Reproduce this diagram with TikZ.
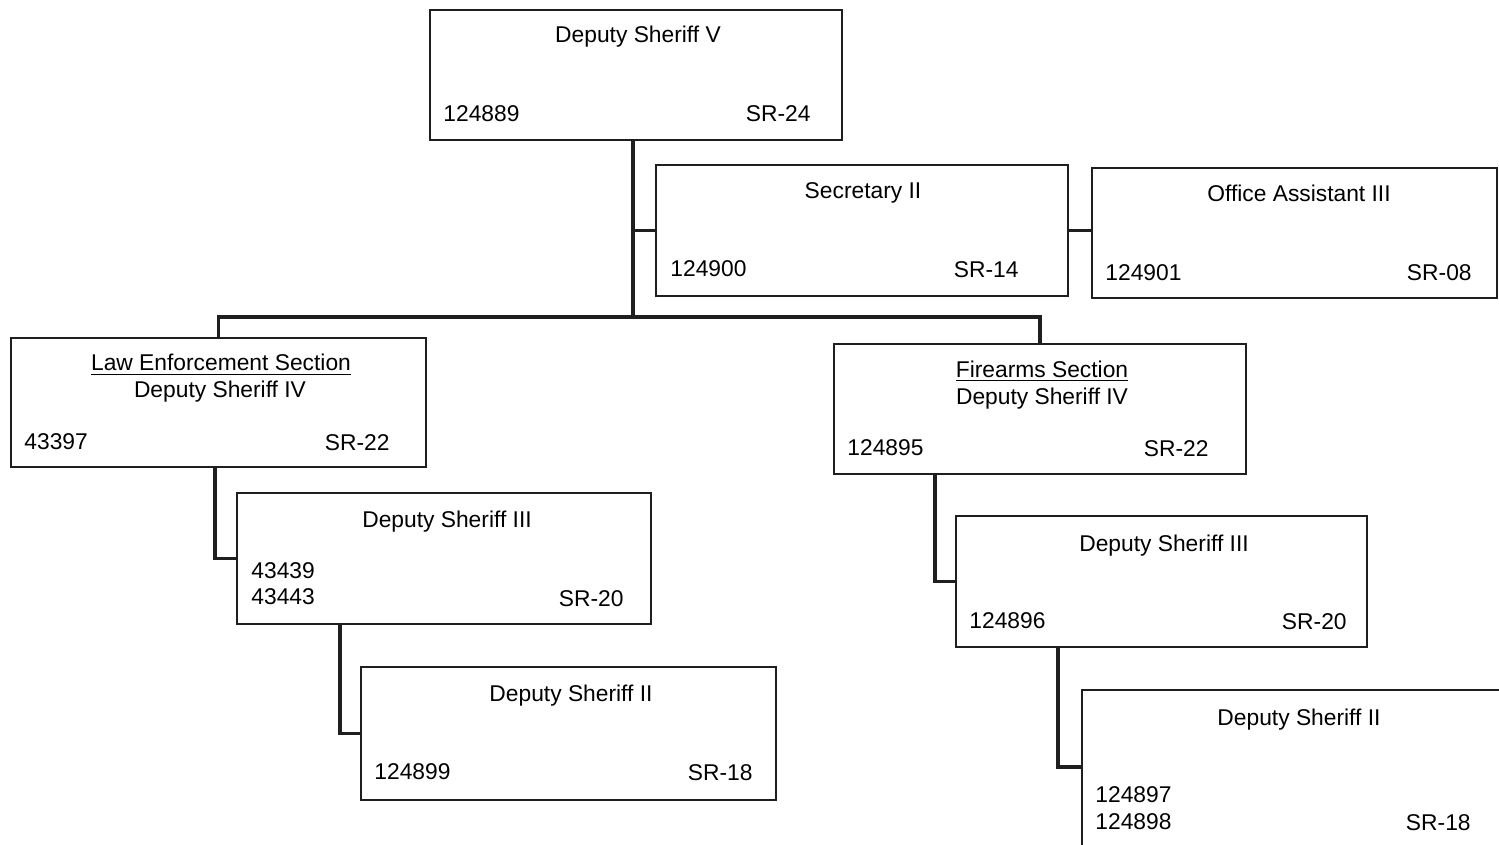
\documentclass[tikz,border=0pt]{standalone}
\usepackage{fontspec}
\setmainfont{Liberation Sans}
\usetikzlibrary{calc}
\tikzset{
  box/.style={draw=black!88, line width=0.85pt, inner sep=0pt, outer sep=0pt, rectangle},
  conn/.style={draw=black!88, line width=1.7pt},
  tc/.style={anchor=base, inner sep=0pt, font=\fontsize{11.4}{13.7}\selectfont},
  tl/.style={anchor=base west, inner sep=0pt, font=\fontsize{11.4}{13.7}\selectfont},
  tr/.style={anchor=base east, inner sep=0pt, font=\fontsize{11.4}{13.7}\selectfont}
}
\begin{document}
\begin{tikzpicture}[x=0.5pt, y=-0.5pt]
\useasboundingbox (0,0) rectangle (1499,845);
\fill[white] (0,0) rectangle (1499,845);
\clip (0,0) rectangle (1499,845);
% boxes
\node[box, minimum width=206pt, minimum height=65pt] (dsv) at (636,75) {};
\node[box, minimum width=206pt, minimum height=65.5pt] (sec) at (862,230.5) {};
\node[box, minimum width=202.5pt, minimum height=65pt] (oa) at (1294.5,233) {};
\node[box, minimum width=207.5pt, minimum height=64.5pt] (le) at (218.5,402.5) {};
\node[box, minimum width=206pt, minimum height=65pt] (fa) at (1040,409) {};
\node[box, minimum width=207pt, minimum height=65.5pt] (d3l) at (444,558.5) {};
\node[box, minimum width=205.5pt, minimum height=65.5pt] (d3r) at (1161.5,581.5) {};
\node[box, minimum width=207.5pt, minimum height=66.5pt] (d2l) at (568.5,733.5) {};
\node[box, minimum width=214pt, minimum height=85pt] (d2r) at (1296,775) {};
% texts
\node[tc] (t1) at (638,43) {Deputy Sheriff V};
\node[tl] (n1) at (443,122) {124889};
\node[tr] (g1) at (811,122) {SR-24};
\node[tc] (t2) at (863,199) {Secretary II};
\node[tl] (n2) at (670,277) {124900};
\node[tr] (g2) at (1019,278) {SR-14};
\node[tc] (t3) at (1299,202) {Office Assistant III};
\node[tl] (n3) at (1105,280) {124901};
\node[tr] (g3) at (1472,281) {SR-08};
\node[tc] (s4) at (221,371) {\underline{Law Enforcement Section}};
\node[tc] (t4) at (220,397) {Deputy Sheriff IV};
\node[tl] (n4) at (24,449) {43397};
\node[tr] (g4) at (390,450) {SR-22};
\node[tc] (s5) at (1042,377) {\underline{Firearms Section}};
\node[tc] (t5) at (1042,404) {Deputy Sheriff IV};
\node[tl] (n5) at (847,455) {124895};
\node[tr] (g5) at (1209,456) {SR-22};
\node[tc] (t6) at (447,527) {Deputy Sheriff III};
\node[tl] (n6a) at (251,578) {43439};
\node[tl] (n6b) at (251,604) {43443};
\node[tr] (g6) at (624,606) {SR-20};
\node[tc] (t7) at (1164,551) {Deputy Sheriff III};
\node[tl] (n7) at (969,628) {124896};
\node[tr] (g7) at (1347,629) {SR-20};
\node[tc] (t8) at (571,701) {Deputy Sheriff II};
\node[tl] (n8) at (374,779) {124899};
\node[tr] (g8) at (753,780) {SR-18};
\node[tc] (t9) at (1299,725) {Deputy Sheriff II};
\node[tl] (n9a) at (1095,802) {124897};
\node[tl] (n9b) at (1095,829) {124898};
\node[tr] (g9) at (1471,830) {SR-18};
% connectors
\coordinate (busy) at (0,317);
\coordinate (top) at ($(dsv.south west)+(203,0)$);
\draw[conn] (top) -- (top |- busy);
\draw[conn] (le.north) -- (le.north |- busy) -- (fa.north |- busy) -- (fa.north);
\draw[conn] (sec.west) -- (sec.west -| top);
\draw[conn] (sec.east) -- (sec.east -| oa.west);
\coordinate (leb) at ($(le.south west)+(204,0)$);
\draw[conn] (leb) |- (d3l.west);
\coordinate (d3lb) at ($(d3l.south west)+(103,0)$);
\draw[conn] (d3lb) |- (d2l.west);
\coordinate (fab) at ($(fa.south west)+(101,0)$);
\draw[conn] (fab) |- (d3r.west);
\coordinate (d3rb) at ($(d3r.south west)+(102,0)$);
\coordinate (d2rin) at ($(d2r.north west)+(0,77)$);
\draw[conn] (d3rb) |- (d2rin);
\end{tikzpicture}
\end{document}
